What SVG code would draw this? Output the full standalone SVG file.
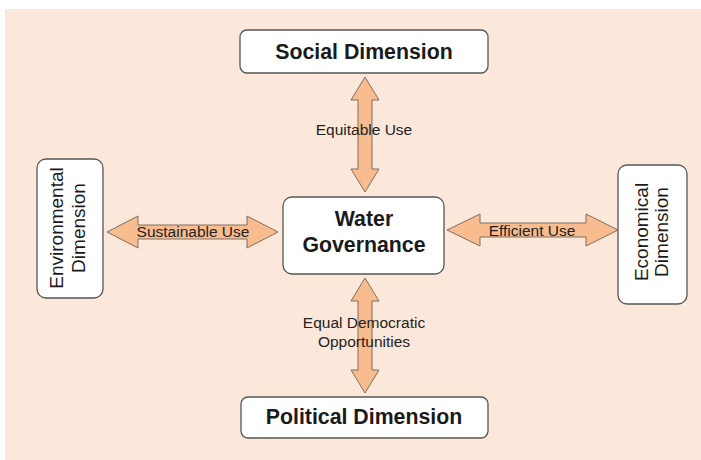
<svg xmlns="http://www.w3.org/2000/svg" width="701" height="460" viewBox="0 0 701 460">
<style>
.box{fill:#ffffff;stroke:#555555;stroke-width:1.3}
.arr{fill:#F8BC8E;stroke:#7d6e62;stroke-width:1}
.t{font-family:"Liberation Sans",Arial,sans-serif;fill:#1a1a1a}
.b{font-weight:bold;font-size:21.3px;text-anchor:middle}
.v{font-size:19px;text-anchor:middle}
.l{font-size:15.5px;text-anchor:middle;fill:#222222}
</style>
<rect x="0" y="0" width="701" height="460" fill="#ffffff"/>
<rect x="5" y="9" width="696" height="451" fill="#FCE8DA"/>
<g id="connectors">
<path class="arr" d="M365,77 L379,100 L372,100 L372,169 L379,169 L365,192 L351,169 L358,169 L358,100 L351,100 Z"/>
<path class="arr" d="M365,278 L379,301 L372,301 L372,370 L379,370 L365,393 L351,370 L358,370 L358,301 L351,301 Z"/>
<path class="arr" d="M107,232 L138,216 L138,225 L247,225 L247,216 L278,232 L247,248 L247,239 L138,239 L138,248 Z"/>
<path class="arr" d="M447,230 L480,214 L480,223 L586,223 L586,214 L618,230 L586,246 L586,237 L480,237 L480,246 Z"/>
<text class="t l" x="364" y="135">Equitable Use</text>
<text class="t l" x="193" y="237">Sustainable Use</text>
<text class="t l" x="532" y="236">Efficient Use</text>
<text class="t l" x="364" y="328">Equal Democratic</text>
<text class="t l" x="364" y="347">Opportunities</text>
</g>
<g id="social">
<rect class="box" x="240" y="30" width="248" height="43" rx="7"/>
<text class="t b" x="364" y="59">Social Dimension</text>
</g>
<g id="water">
<rect class="box" x="283" y="197" width="161" height="77" rx="9"/>
<text class="t b" x="364" y="226">Water</text>
<text class="t b" x="364" y="252">Governance</text>
</g>
<g id="environmental">
<rect class="box" x="37" y="159" width="66" height="139" rx="9"/>
<text class="t v" transform="translate(63,228) rotate(-90)">Environmental</text>
<text class="t v" transform="translate(85,228) rotate(-90)">Dimension</text>
</g>
<g id="economical">
<rect class="box" x="618" y="165" width="69" height="139" rx="9"/>
<text class="t v" transform="translate(648,232) rotate(-90)">Economical</text>
<text class="t v" transform="translate(668,232) rotate(-90)">Dimension</text>
</g>
<g id="political">
<rect class="box" x="241" y="397" width="247" height="41" rx="7"/>
<text class="t b" x="364" y="424">Political Dimension</text>
</g>
</svg>
